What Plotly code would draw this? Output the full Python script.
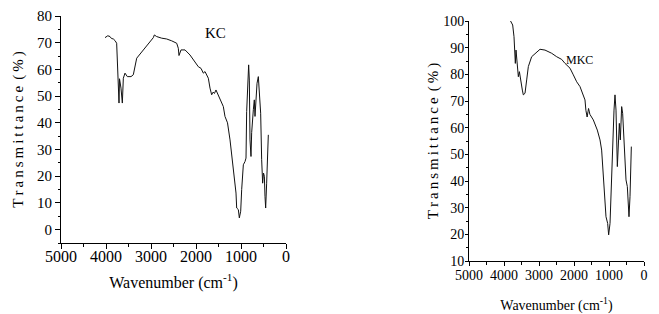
import plotly.graph_objects as go

# ---------------- data ----------------
kc_wavenumber = [4022, 3960, 3911, 3880, 3837, 3800, 3763, 3741, 3726, 3711, 3700, 3689, 3667,
                 3637, 3615, 3578, 3526, 3444, 3393, 3318, 3244, 3171, 3096, 3022, 2948,
                 2926, 2874, 2763, 2652, 2540, 2429, 2393, 2378, 2333, 2244, 2133, 2022,
                 1948, 1889, 1837, 1800, 1760, 1726, 1689, 1652, 1620, 1590, 1556, 1500,
                 1467, 1420, 1393, 1356, 1300, 1244, 1171, 1111, 1096, 1059, 1037, 1007,
                 985, 948, 911, 889, 874, 852, 830, 815, 800, 778, 763, 726, 704, 689,
                 674, 644, 615, 593, 563, 541, 519, 500, 481, 467, 452, 430, 407, 393]
kc_transmittance = [71.9, 72.6, 72.3, 71.6, 71.4, 70.8, 69.8, 58.0, 54.2, 47.4, 56.5, 55.4, 53.0,
                    47.4, 56.7, 58.6, 57.3, 57.3, 58.0, 64.2, 65.8, 67.3, 68.8, 70.4, 71.9,
                    72.9, 72.3, 71.7, 71.4, 70.7, 69.8, 67.9, 65.2, 67.3, 67.3, 65.4, 62.9,
                    61.0, 60.4, 58.6, 59.2, 57.5, 56.7, 53.0, 50.5, 51.5, 51.0, 52.3, 50.0,
                    49.2, 47.0, 46.1, 42.4, 40.0, 33.6, 22.4, 13.7, 8.1, 7.5, 4.4, 6.9,
                    15.0, 24.3, 25.5, 26.8, 44.2, 54.8, 61.7, 56.0, 33.6, 27.4, 36.3, 44.9, 48.6, 42.4,
                    47.3, 54.8, 57.3, 52.3, 43.6, 26.2, 17.4, 21.2, 20.0, 12.5, 8.1, 17.4, 29.9, 35.5]

mkc_wavenumber = [3829, 3790, 3752, 3714, 3695, 3676, 3657, 3619, 3590, 3560, 3523, 3476, 3448,
                  3400, 3352, 3305, 3210, 3067, 2971, 2829, 2638, 2495, 2352, 2257, 2114,
                  2019, 1923, 1829, 1752, 1686, 1660, 1625, 1600, 1584, 1546, 1448, 1334,
                  1257, 1210, 1162, 1114, 1086, 1038, 1010, 971, 943, 895, 857, 829, 800,
                  762, 733, 705, 676, 638, 610, 562, 514, 476, 429, 400, 381, 362]
mkc_transmittance = [100.4, 99.6, 98.5, 94.1, 87.9, 84.1, 89.1, 82.9, 79.1, 81.0, 77.2, 74.1, 72.3,
                     72.9, 77.9, 82.9, 86.6, 88.5, 89.4, 89.1, 87.9, 86.6, 85.6, 84.1, 82.3,
                     79.8, 77.2, 75.4, 72.9, 70.4, 66.5, 64.0, 66.0, 67.2, 65.0, 62.9, 59.1,
                     55.4, 51.6, 40.4, 32.9, 26.6, 24.1, 19.8, 24.1, 36.6, 49.1, 66.6, 72.3, 66.6,
                     45.4, 52.9, 61.6, 55.4, 67.9, 65.4, 50.4, 40.4, 37.9, 26.6, 34.1, 45.4, 52.9]

x_ticks = [5000, 4000, 3000, 2000, 1000, 0]
kc_y_ticks = [0, 10, 20, 30, 40, 50, 60, 70, 80]
mkc_y_ticks = [10, 20, 30, 40, 50, 60, 70, 80, 90, 100]
labels = ["KC", "MKC"]

# ---------------- figure ----------------
FONT = "Liberation Serif, Times New Roman, serif"
OFF = 8                      # the page body adds an 8 px margin
W, H = 659 - OFF, 314 - OFF  # figure fills the rest of the window


def xd(a, b):
    return [(a - OFF) / W, (b - OFF) / W]


def yd(top, bottom):
    return [1 - (bottom - OFF) / H, 1 - (top - OFF) / H]


fig = go.Figure()
fig.add_trace(go.Scatter(x=kc_wavenumber, y=kc_transmittance, mode="lines",
                         line=dict(color="#111111", width=1), xaxis="x", yaxis="y",
                         showlegend=False, name=labels[0]))
fig.add_trace(go.Scatter(x=mkc_wavenumber, y=mkc_transmittance, mode="lines",
                         line=dict(color="#111111", width=1), xaxis="x2", yaxis="y2",
                         showlegend=False, name=labels[1]))

ytitle = "\u2009".join(list("Transmittance")) + "\u2009\u2009(\u2009%\u2009)"

common_x = dict(range=[5000, 0], tickvals=x_ticks, ticks="outside",
                tickwidth=1, tickcolor="black", showline=True, linecolor="black",
                linewidth=1, showgrid=False, zeroline=False, automargin=False,
                minor=dict(dtick=500, ticks="outside", ticklen=3, tickcolor="black"))
common_y = dict(ticks="outside", tickwidth=1, tickcolor="black",
                showline=True, linecolor="black", linewidth=1, showgrid=False,
                zeroline=False, automargin=False,
                minor=dict(dtick=5, ticks="outside", ticklen=2, tickcolor="black"))

fig.update_layout(
    width=W, height=H,
    margin=dict(l=0, r=0, t=0, b=0),
    paper_bgcolor="white", plot_bgcolor="white",
    font=dict(family=FONT, color="black"),
    xaxis=dict(domain=xd(61, 286), anchor="y", ticklen=5, ticklabelstandoff=-6,
               tickfont=dict(size=16, family=FONT),
               title=dict(text="Wavenumber (cm<sup>-1</sup>)",
                          font=dict(size=16, family=FONT), standoff=12),
               **common_x),
    yaxis=dict(domain=yd(16, 243), anchor="x", range=[-5, 80], ticklen=5,
               ticklabelstandoff=0,
               tickvals=kc_y_ticks, tickfont=dict(size=15, family=FONT),
               title=dict(text=ytitle, font=dict(size=15, family=FONT), standoff=9),
               **common_y),
    xaxis2=dict(domain=xd(469, 644), anchor="y2", ticklen=4, ticklabelstandoff=-3,
                tickfont=dict(size=14, family=FONT),
                title=dict(text="Wavenumber (cm<sup>-1</sup>)",
                           font=dict(size=14, family=FONT), standoff=20),
                **common_x),
    yaxis2=dict(domain=yd(21, 261), anchor="x2", range=[10, 100], ticklen=3,
                ticklabelstandoff=-2,
                tickvals=mkc_y_ticks, tickfont=dict(size=14, family=FONT),
                title=dict(text=ytitle, font=dict(size=15, family=FONT), standoff=0),
                **common_y),
    annotations=[
        dict(text=labels[0], x=1560, y=73.5, xref="x", yref="y", showarrow=False,
             font=dict(size=15, family=FONT)),
        dict(text=labels[1], x=1829, y=85.4, xref="x2", yref="y2", showarrow=False,
             font=dict(size=12, family=FONT)),
    ],
)

fig.write_html("out.html")
